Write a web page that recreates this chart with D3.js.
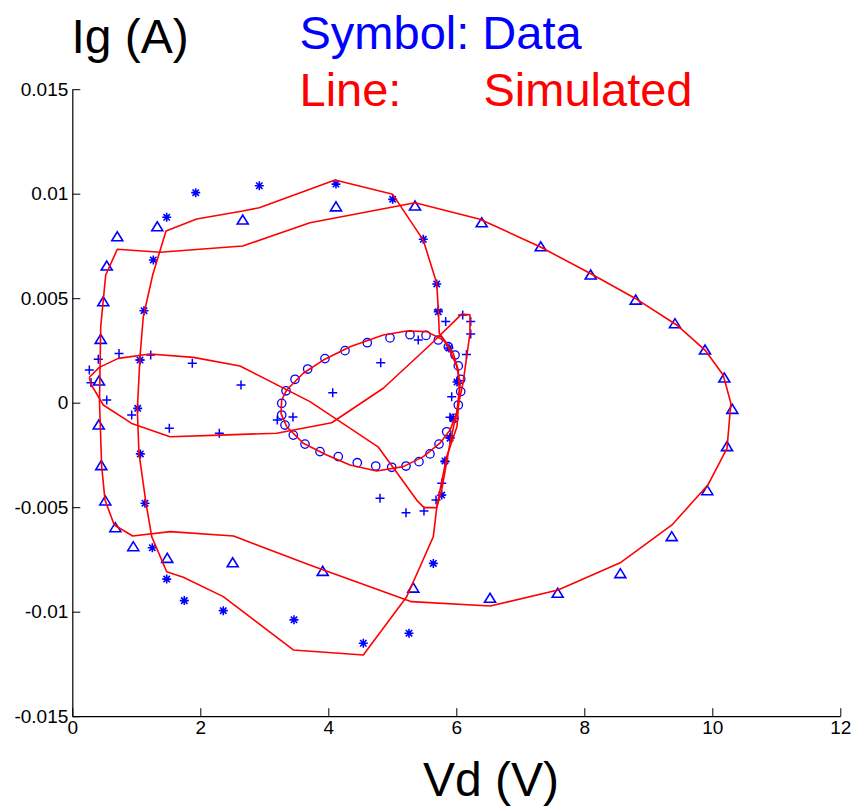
<!DOCTYPE html>
<html>
<head>
<meta charset="utf-8">
<script src="https://cdn.jsdelivr.net/npm/d3@7"></script>
<style>
  html, body { margin: 0; padding: 0; background: #fff; }
  svg { display: block; }
  text { font-family: "Liberation Sans", Arial, sans-serif; }
</style>
</head>
<body>
<svg id="chart" width="855" height="809"></svg>
<script>
// Gate current Ig (A) versus drain voltage Vd (V): measured symbols and simulated loops.

const xTicks = [0, 2, 4, 6, 8, 10, 12];
const yTicks = [-0.015, -0.01, -0.005, 0, 0.005, 0.01, 0.015];
const yTickLabels = ["-0.015", "-0.01", "-0.005", "0", "0.005", "0.01", "0.015"];

// Measured data, triangle symbols (largest loop)
const triangleData = [
  [0.703, 0.00794], [1.328, 0.00842], [2.663, 0.00874], [4.120, 0.00937],
  [5.355, 0.00941], [6.397, 0.00861], [7.319, 0.00746], [8.100, 0.00611],
  [8.803, 0.00491], [9.417, 0.00378], [9.886, 0.00252], [10.188, 0.00118],
  [10.313, -0.00032], [10.230, -0.00210], [9.922, -0.00421], [9.366, -0.00641],
  [8.563, -0.00818], [7.584, -0.00912], [6.527, -0.00936], [5.328, -0.00887],
  [3.913, -0.00807], [2.506, -0.00766], [1.484, -0.00745], [0.953, -0.00689],
  [0.672, -0.00598], [0.516, -0.00470], [0.453, -0.00301], [0.413, -0.00107],
  [0.417, 0.00104], [0.444, 0.00303], [0.484, 0.00483], [0.538, 0.00654]
];

// Measured data, star symbols
const starData = [
  [1.022, -0.00027], [1.058, 0.00204], [1.120, 0.00440], [1.266, 0.00683],
  [1.475, 0.00887], [1.928, 0.01005], [2.922, 0.01038], [4.120, 0.01046],
  [5.006, 0.00973], [5.484, 0.00782], [5.694, 0.00568], [5.719, 0.00435],
  [5.886, 0.00262], [6.011, 0.00099], [5.953, -0.00075], [5.902, -0.00170],
  [5.823, -0.00279], [5.772, -0.00442], [5.641, -0.00769], [5.261, -0.01103],
  [4.547, -0.01151], [3.464, -0.01039], [2.359, -0.00995], [1.750, -0.00947],
  [1.475, -0.00844], [1.250, -0.00694], [1.136, -0.00481], [1.063, -0.00245]
];

// Measured data, plus symbols
const plusData = [
  [0.266, 0.00156], [0.292, 0.00096], [0.406, 0.00208], [0.538, 0.00013],
  [0.730, 0.00236], [0.928, -0.00059], [1.225, 0.00228], [1.516, -0.00122],
  [1.875, 0.00189], [2.297, -0.00146], [2.636, 0.00085], [3.203, -0.00083],
  [3.448, -0.00068], [4.069, 0.00048], [4.819, 0.00191], [5.406, 0.00300],
  [5.719, 0.00444], [5.834, 0.00388], [6.100, 0.00420], [6.225, 0.00388],
  [6.225, 0.00329], [6.159, 0.00231], [6.031, 0.00105], [5.928, 0.00029],
  [5.902, -0.00070], [5.902, -0.00166], [5.823, -0.00282], [5.772, -0.00386],
  [5.683, -0.00466], [5.495, -0.00518], [5.214, -0.00526], [4.808, -0.00457],
  [1.058, 0.00204]
];

// Measured data, circle symbols (small loop)
const circleData = [
  [3.272, -0.00003], [3.272, -0.00059], [3.323, -0.00107], [3.453, -0.00155],
  [3.636, -0.00198], [3.870, -0.00234], [4.156, -0.00258], [4.453, -0.00287],
  [4.741, -0.00303], [4.991, -0.00309], [5.214, -0.00303], [5.417, -0.00282],
  [5.589, -0.00245], [5.730, -0.00198], [5.850, -0.00139], [5.964, -0.00075],
  [6.031, -0.00011], [6.069, 0.00053], [6.069, 0.00112], [6.031, 0.00176],
  [5.980, 0.00228], [5.875, 0.00268], [5.719, 0.00300], [5.527, 0.00322],
  [5.277, 0.00325], [4.964, 0.00310], [4.609, 0.00287], [4.261, 0.00249],
  [3.948, 0.00211], [3.678, 0.00161], [3.480, 0.00112], [3.339, 0.00057]
];

// Simulated loops
const simTriangle = [
  [0.425, 0.00003], [0.444, 0.00364], [0.522, 0.00611], [0.703, 0.00734],
  [1.370, 0.00720], [2.662, 0.00750], [3.714, 0.00861], [5.355, 0.00957],
  [6.370, 0.00878], [7.308, 0.00746], [8.089, 0.00619], [8.792, 0.00500],
  [9.444, 0.00372], [9.886, 0.00252], [10.17, 0.00133], [10.29, -0.00003],
  [10.23, -0.00218], [9.93, -0.00394], [9.37, -0.00585], [8.56, -0.00766],
  [7.59, -0.00896], [6.53, -0.00973], [5.30, -0.00952], [3.71, -0.00777],
  [2.52, -0.00638], [1.53, -0.00617], [0.944, -0.00638], [0.656, -0.00585],
  [0.511, -0.00466], [0.459, -0.00306], [0.425, 0.00003]
];

const simStar = [
  [1.016, -0.00035], [1.058, 0.00220], [1.109, 0.00411], [1.256, 0.00611],
  [1.464, 0.00822], [1.944, 0.00879], [2.663, 0.00917], [2.922, 0.00933],
  [4.105, 0.01066], [5.006, 0.00997], [5.484, 0.00778], [5.694, 0.00571],
  [5.719, 0.00444], [5.734, 0.00332], [5.850, 0.00284], [6.000, 0.00180],
  [6.060, 0.00094], [6.010, -0.00115], [5.850, -0.00258], [5.745, -0.00418],
  [5.694, -0.00502], [5.641, -0.00641], [5.433, -0.00785], [5.225, -0.00928],
  [4.547, -0.01207], [3.453, -0.01183], [2.359, -0.00928], [1.734, -0.00835],
  [1.475, -0.00809], [1.241, -0.00641], [1.152, -0.00481], [1.042, -0.00242],
  [1.016, -0.00035]
];

const simPlus = [
  [0.266, 0.00122], [0.422, 0.00169], [0.719, 0.00212], [1.214, 0.00233],
  [1.891, 0.00217], [2.620, 0.00176], [3.714, 0.00005], [4.777, -0.00211],
  [5.381, -0.00466], [5.495, -0.00502], [5.694, -0.00502], [5.772, -0.00418],
  [5.902, -0.00193], [6.105, 0.00094], [6.214, 0.00333], [6.214, 0.00420],
  [6.084, 0.00424], [5.589, 0.00276], [4.859, 0.00069], [4.053, -0.00096],
  [3.194, -0.00146], [2.308, -0.00155], [1.527, -0.00163], [0.928, -0.00099],
  [0.484, -0.00011], [0.292, 0.00089], [0.266, 0.00122]
];

const simCircle = [
  [3.272, 0.00013], [3.350, 0.00061], [3.609, 0.00141], [3.922, 0.00204],
  [4.339, 0.00268], [4.859, 0.00324], [5.225, 0.00343], [5.538, 0.00340],
  [5.797, 0.00300], [5.953, 0.00236], [6.031, 0.00156], [6.047, 0.00061],
  [6.006, -0.00051], [5.902, -0.00131], [5.745, -0.00194], [5.484, -0.00258],
  [5.172, -0.00306], [4.756, -0.00327], [4.339, -0.00298], [3.975, -0.00250],
  [3.609, -0.00194], [3.350, -0.00115], [3.261, -0.00051], [3.272, 0.00013]
];

const svg = d3.select("#chart");
const plotLeft = 72.3, plotRight = 840.3, plotTop = 89.2, plotBottom = 716.2;

const x = d3.scaleLinear().domain([0, 12]).range([plotLeft, plotRight]);
const y = d3.scaleLinear().domain([-0.015, 0.015]).range([plotBottom, plotTop]);

const blue = "#0000ff";
const red = "#ff0000";

// Axes: left and bottom only, ticks pointing inward
const gx = svg.append("g")
  .attr("transform", `translate(0,${plotBottom})`)
  .call(d3.axisBottom(x).tickValues(xTicks).tickFormat(d3.format("d"))
    .tickSize(-8).tickSizeOuter(0).tickPadding(4));

const gy = svg.append("g")
  .attr("transform", `translate(${plotLeft},0)`)
  .call(d3.axisLeft(y).tickValues(yTicks)
    .tickFormat((d, i) => yTickLabels[i])
    .tickSize(-8).tickSizeOuter(0).tickPadding(4));

[gx, gy].forEach(g => {
  g.select(".domain").attr("stroke", "#000").attr("stroke-width", 1.2);
  g.selectAll(".tick line").attr("stroke", "#000").attr("stroke-width", 1);
  g.selectAll(".tick text")
    .attr("fill", "#000")
    .style("font-family", "'Liberation Sans', Arial, sans-serif")
    .style("font-size", "19px");
});

// Measured symbols
const markers = svg.append("g").attr("fill", "none").attr("stroke", blue);

markers.selectAll("path.tri").data(triangleData).join("path")
  .attr("class", "tri")
  .attr("stroke-width", 1.6)
  .attr("d", d => {
    const cx = x(d[0]), cy = y(d[1]);
    return `M${cx - 5.5},${cy + 4}L${cx + 5.5},${cy + 4}L${cx},${cy - 5}Z`;
  });

markers.selectAll("circle.circ").data(circleData).join("circle")
  .attr("class", "circ")
  .attr("stroke-width", 1.3)
  .attr("cx", d => x(d[0])).attr("cy", d => y(d[1])).attr("r", 4.2);

markers.selectAll("path.plus").data(plusData).join("path")
  .attr("class", "plus")
  .attr("stroke-width", 1.5)
  .attr("d", d => {
    const cx = x(d[0]), cy = y(d[1]), s = 4.5;
    return `M${cx - s},${cy}H${cx + s}M${cx},${cy - s}V${cy + s}`;
  });

markers.selectAll("path.star").data(starData).join("path")
  .attr("class", "star")
  .attr("stroke-width", 1.6)
  .attr("d", d => {
    const cx = x(d[0]), cy = y(d[1]), s = 4.5, t = 3.2;
    return `M${cx - s},${cy}H${cx + s}M${cx},${cy - s}V${cy + s}` +
      `M${cx - t},${cy - t}L${cx + t},${cy + t}M${cx - t},${cy + t}L${cx + t},${cy - t}`;
  });

// Simulated loops
const line = d3.line().x(d => x(d[0])).y(d => y(d[1]));
const sims = [simTriangle, simStar, simPlus, simCircle];
svg.append("g").selectAll("path").data(sims).join("path")
  .attr("d", line)
  .attr("fill", "none")
  .attr("stroke", red)
  .attr("stroke-width", 1.6)
  .attr("stroke-linejoin", "round");

// Titles and legend text
svg.append("text")
  .attr("x", 71.5).attr("y", 53)
  .attr("font-size", 48).attr("fill", "#000")
  .text("Ig (A)");

svg.append("text")
  .attr("x", 299.5).attr("y", 49)
  .attr("font-size", 47).attr("fill", blue)
  .text("Symbol: Data");

const lineLegend = svg.append("text")
  .attr("y", 106).attr("font-size", 47).attr("fill", red);
lineLegend.append("tspan").attr("x", 299.5).text("Line:");
lineLegend.append("tspan").attr("x", 483.5).text("Simulated");

svg.append("text")
  .attr("x", 491).attr("y", 796)
  .attr("text-anchor", "middle")
  .attr("font-size", 48).attr("fill", "#000")
  .text("Vd (V)");
</script>
</body>
</html>
